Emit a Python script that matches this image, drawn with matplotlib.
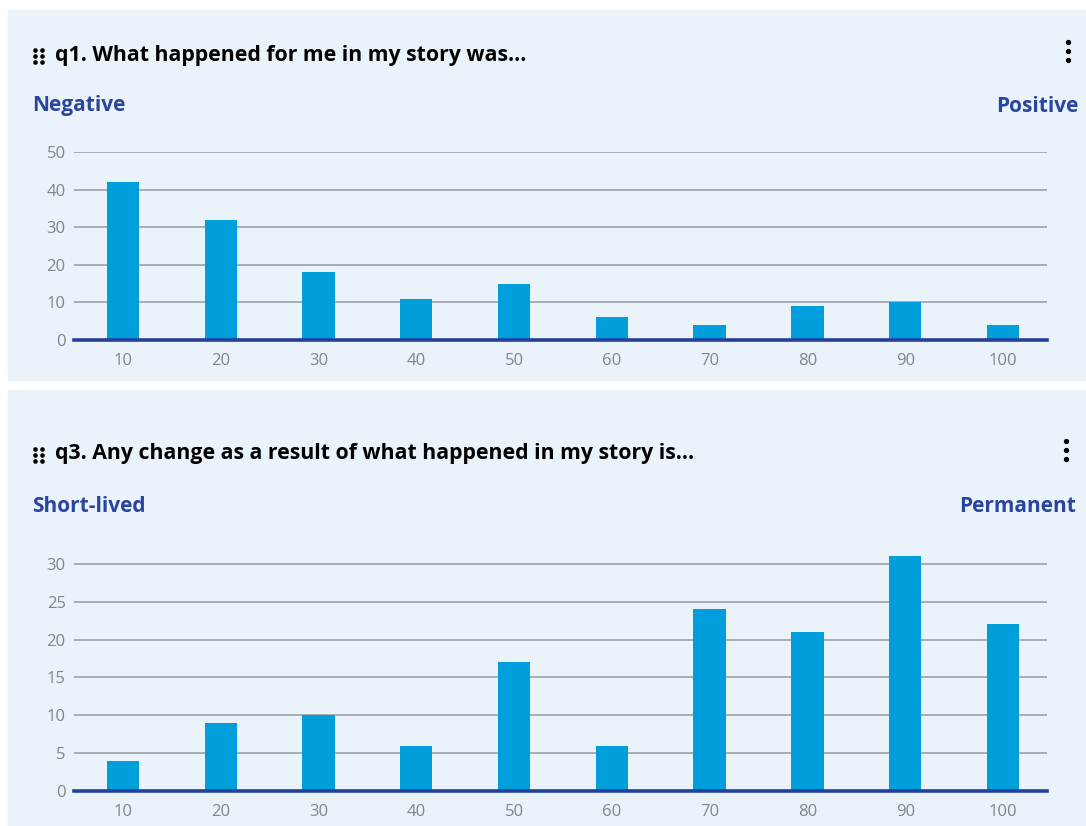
import matplotlib
import matplotlib.pyplot as plt
from matplotlib.patches import Rectangle

matplotlib.use("Agg")

plt.rcParams["font.family"] = ["Open Sans", "DejaVu Sans"]

categories = ["10", "20", "30", "40", "50", "60", "70", "80", "90", "100"]

q1_title = "q1. What happened for me in my story was..."
q1_low, q1_high = "Negative", "Positive"
q1_values = [42, 32, 18, 11, 15, 6, 4, 9, 10, 4]
q1_ticks = [0, 10, 20, 30, 40, 50]

q3_title = "q3. Any change as a result of what happened in my story is..."
q3_low, q3_high = "Short-lived", "Permanent"
q3_values = [4, 9, 10, 6, 17, 6, 24, 21, 31, 22]
q3_ticks = [0, 5, 10, 15, 20, 25, 30]

W, H = 1086, 826
PANEL = "#eaf2fa"
BAR = "#009edb"
BASE = "#25409a"
GRID = "#a3a7ae"
TICK = "#838589"
LABEL = "#2a45a0"


def box(x0, y0, x1, y1):
    return [x0 / W, 1 - y1 / H, (x1 - x0) / W, (y1 - y0) / H]


def handle(bg, x, y):
    for dx in (0, 7):
        for dy in (-6, 0, 6):
            bg.plot(x + dx, y + dy, "o", ms=2.3, color="black")


def kebab(bg, x, y):
    for dy in (-9, 0, 9):
        bg.plot(x, y + dy, "o", ms=2.8, color="black")


def chart(fig, rect, values, ticks, ymax):
    ax = fig.add_axes(rect)
    ax.set_facecolor("none")
    x = range(len(categories))
    ax.bar(x, values, width=0.33, color=BAR, zorder=2)
    ax.axhline(0, color=BASE, lw=2.6, zorder=3, clip_on=False)
    ax.set_xlim(-0.5, 9.45)
    ax.set_ylim(0, ymax)
    ax.set_yticks(ticks)
    ax.set_xticks(list(x))
    ax.set_xticklabels(categories)
    ax.grid(axis="y", color=GRID, lw=1.3, zorder=1)
    ax.tick_params(length=0, colors=TICK, labelsize=12)
    ax.tick_params(axis="x", pad=9)
    ax.tick_params(axis="y", pad=6)
    for spine in ax.spines.values():
        spine.set_visible(False)
    return ax


fig = plt.figure(figsize=(W / 100, H / 100), dpi=100)
fig.patch.set_facecolor("white")

bg = fig.add_axes([0, 0, 1, 1], zorder=-1)
bg.set_xlim(0, W)
bg.set_ylim(H, 0)
bg.axis("off")
bg.add_patch(Rectangle((8, 10), W - 8, 370, color=PANEL))
bg.add_patch(Rectangle((8, 390), W - 8, H - 390, color=PANEL))

# panel 1
handle(bg, 35, 56)
bg.text(55, 56, q1_title, fontsize=15.3, fontweight="bold", va="center", ha="left")
kebab(bg, 1068, 51)
bg.text(32, 106, q1_low, fontsize=15, fontweight="bold", color=LABEL, va="center")
bg.text(1078, 106, q1_high, fontsize=15, fontweight="bold", color=LABEL, va="center", ha="right")
chart(fig, box(74, 152, 1047, 340), q1_values, q1_ticks, 50)

# panel 2
handle(bg, 35, 455)
bg.text(55, 454, q3_title, fontsize=15.3, fontweight="bold", va="center", ha="left")
kebab(bg, 1066, 450)
bg.text(32, 507, q3_low, fontsize=15, fontweight="bold", color=LABEL, va="center")
bg.text(1076, 507, q3_high, fontsize=15, fontweight="bold", color=LABEL, va="center", ha="right")
chart(fig, box(74, 791 - 32 * 7.57, 1047, 791), q3_values, q3_ticks, 32)

fig.savefig("out.png", dpi=100, facecolor=fig.get_facecolor())
